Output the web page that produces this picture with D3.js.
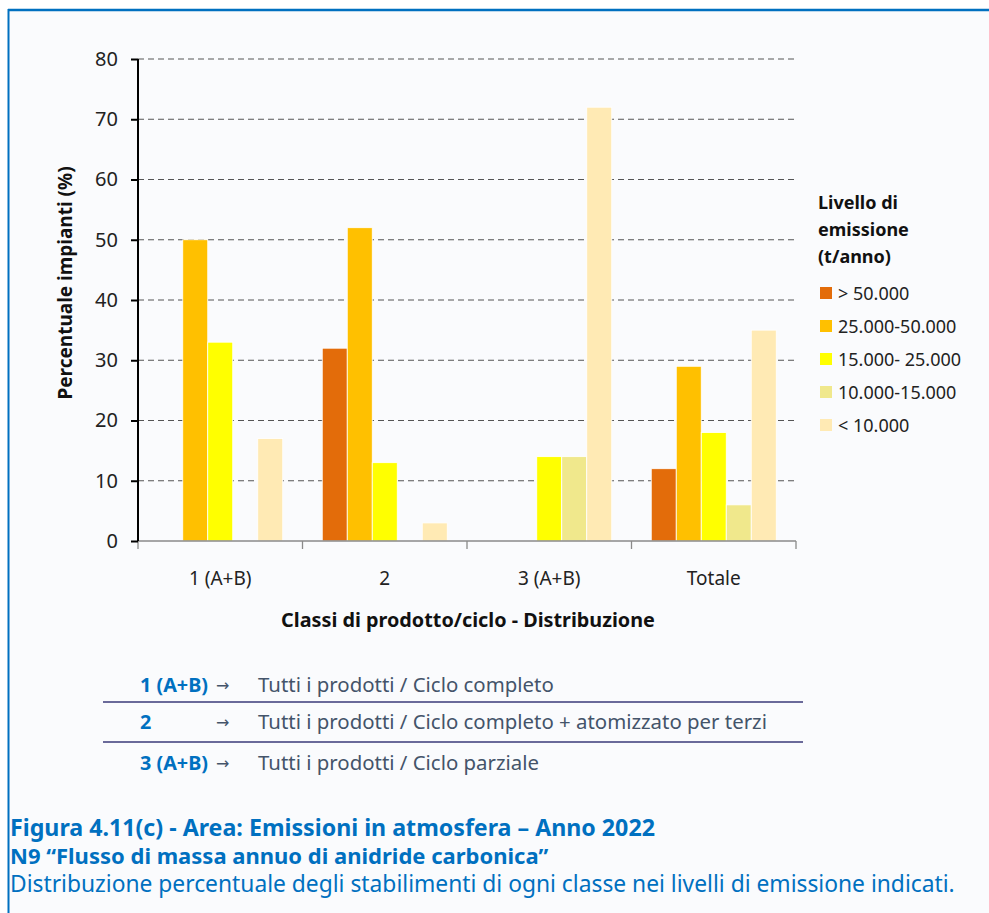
<!DOCTYPE html>
<html><head><meta charset="utf-8">
<script src="https://cdn.jsdelivr.net/npm/d3@7"></script>
<style>
html,body{margin:0;padding:0;background:#fff;}
svg{display:block;}
</style></head>
<body>
<script>
const categories = ["1 (A+B)", "2", "3 (A+B)", "Totale"];
const seriesNames = ["> 50.000", "25.000-50.000", "15.000- 25.000", "10.000-15.000", "< 10.000"];
const seriesColors = ["#E36C0A", "#FFC000", "#FFFF00", "#F0E88C", "#FFEAB4"];
const vOver50 = [0, 32, 0, 12];
const v25to50 = [50, 52, 0, 29];
const v15to25 = [33, 13, 14, 18];
const v10to15 = [0, 0, 14, 6];
const vUnder10 = [17, 3, 72, 35];
const seriesValues = [vOver50, v25to50, v15to25, v10to15, vUnder10];
const yTicks = [0, 10, 20, 30, 40, 50, 60, 70, 80];
const legendTitle = ["Livello di", "emissione", "(t/anno)"];
const yTitle = "Percentuale impianti (%)";
const xTitle = "Classi di prodotto/ciclo - Distribuzione";
const noteKeys = ["1 (A+B)", "2", "3 (A+B)"];
const noteTexts = ["Tutti i prodotti / Ciclo completo", "Tutti i prodotti / Ciclo completo + atomizzato per terzi", "Tutti i prodotti / Ciclo parziale"];
const captionLines = ["Figura 4.11(c) - Area: Emissioni in atmosfera \u2013 Anno 2022", "N9 \u201cFlusso di massa annuo di anidride carbonica\u201d", "Distribuzione percentuale degli stabilimenti di ogni classe nei livelli di emissione indicati."];

const W = 989, H = 913;
const font = "'Noto Sans', 'Open Sans', sans-serif";
const svg = d3.select("body").append("svg").attr("width", W).attr("height", H);
svg.append("rect").attr("width", W).attr("height", H).attr("fill", "#fff");
svg.append("rect").attr("x", 9).attr("y", 11).attr("width", W).attr("height", H).attr("fill", "#FAFBFD");
svg.append("line").attr("x1", 8).attr("x2", W).attr("y1", 10).attr("y2", 10).attr("stroke", "#0070C0").attr("stroke-width", 2.5);
svg.append("line").attr("x1", 8.5).attr("x2", 8.5).attr("y1", 9).attr("y2", H).attr("stroke", "#0070C0").attr("stroke-width", 2);

const x0 = 138, x1 = 796, yTop = 59, yBot = 541;
const x = d3.scaleBand().domain(categories).range([x0, x1]).paddingInner(0).paddingOuter(0);
const xs = d3.scaleBand().domain(d3.range(seriesNames.length)).range([0, x.bandwidth()]).paddingOuter(0.79).paddingInner(0);
const y = d3.scaleLinear().domain([0, 80]).range([yBot, yTop]);

svg.append("g").selectAll("line").data(yTicks.filter(d => d > 0)).join("line")
  .attr("x1", x0).attr("x2", x1).attr("y1", d => y(d)).attr("y2", d => y(d))
  .attr("stroke", "#555").attr("stroke-width", 1).attr("stroke-dasharray", "6,4");

const data = [];
categories.forEach((c, ci) => seriesValues.forEach((s, si) => data.push({c, si, v: s[ci]})));
svg.append("g").selectAll("rect").data(data.filter(d => d.v > 0)).join("rect")
  .attr("x", d => x(d.c) + xs(d.si)).attr("width", xs.bandwidth())
  .attr("y", d => y(d.v)).attr("height", d => y(0) - y(d.v))
  .attr("fill", d => seriesColors[d.si]).attr("stroke", "#fff").attr("stroke-width", 0.8);

const xa = svg.append("g").attr("transform", `translate(0,${yBot})`);
xa.append("line").attr("x1", x0).attr("x2", x1).attr("stroke", "#8a8a8a").attr("stroke-width", 1.3);
const bounds = categories.map(c => x(c)).concat([x1]);
xa.selectAll("line.t").data(bounds).join("line").attr("class", "t").attr("x1", d => d).attr("x2", d => d).attr("y1", 0).attr("y2", 8)
  .attr("stroke", "#8a8a8a").attr("stroke-width", 1.3);
xa.selectAll("text").data(categories).join("text")
  .attr("x", d => x(d) + x.bandwidth() / 2).attr("y", 44).attr("text-anchor", "middle")
  .attr("font-family", font).attr("font-size", 19).attr("fill", "#222").text(d => d);

const ya = svg.append("g").attr("transform", `translate(${x0},0)`);
ya.call(d3.axisLeft(y).tickValues(yTicks).tickSize(7).tickPadding(13));
ya.select(".domain").attr("stroke", "#000").attr("stroke-width", 2).attr("d", `M0,${yTop}V${yBot}`);
ya.selectAll(".tick line").attr("stroke", "#000").attr("stroke-width", 2);
ya.selectAll(".tick text").attr("font-family", font).attr("font-size", 20).attr("fill", "#222");

svg.append("text").attr("transform", `translate(72,283) rotate(-90)`)
  .attr("text-anchor", "middle").attr("font-family", font).attr("font-weight", "bold")
  .attr("font-size", 19).attr("fill", "#111").text(yTitle);
svg.append("text").attr("x", 468).attr("y", 627).attr("text-anchor", "middle")
  .attr("font-family", font).attr("font-weight", "bold").attr("font-size", 19.8).attr("fill", "#111").text(xTitle);

const lg = svg.append("g");
lg.selectAll("text.t").data(legendTitle).join("text").attr("class", "t").attr("x", 818).attr("y", (d, i) => 209 + i * 27)
  .attr("font-family", font).attr("font-weight", "bold").attr("font-size", 18).attr("fill", "#111").text(d => d);
const li = lg.selectAll("g.i").data(seriesNames).join("g").attr("class", "i").attr("transform", (d, i) => `translate(820,${293 + i * 33})`);
li.append("rect").attr("x", 0).attr("y", -6).attr("width", 12).attr("height", 12).attr("fill", (d, i) => seriesColors[i]);
li.append("text").attr("x", 18).attr("y", 6.5).attr("font-family", font).attr("font-size", 18).attr("fill", "#222").text(d => d);

const nys = [692, 729, 770];
const ng = svg.append("g");
noteKeys.forEach((k, i) => {
  ng.append("text").attr("x", 140).attr("y", nys[i]).attr("font-family", font).attr("font-weight", "bold")
    .attr("font-size", 19.8).attr("fill", "#0070C0").text(k);
  ng.append("text").attr("x", 216).attr("y", nys[i] - 1).attr("font-family", "'DejaVu Sans', sans-serif")
    .attr("font-size", 16).attr("fill", "#44546A").text("\u2192");
  ng.append("text").attr("x", 258).attr("y", nys[i]).attr("font-family", font)
    .attr("font-size", 20.4).attr("fill", "#44546A").text(noteTexts[i]);
});
[702, 742].forEach(yy => ng.append("line").attr("x1", 103).attr("x2", 803).attr("y1", yy).attr("y2", yy)
  .attr("stroke", "#6A6A9A").attr("stroke-width", 2));

const cy = [836, 864, 892];
const cSizes = [23.2, 22, 22.8];
captionLines.forEach((t, i) => {
  svg.append("text").attr("x", 10).attr("y", cy[i]).attr("font-family", font)
    .attr("font-weight", i < 2 ? "bold" : "normal").attr("font-size", cSizes[i])
    .attr("fill", "#0070C0").text(t);
});
</script>
</body></html>
